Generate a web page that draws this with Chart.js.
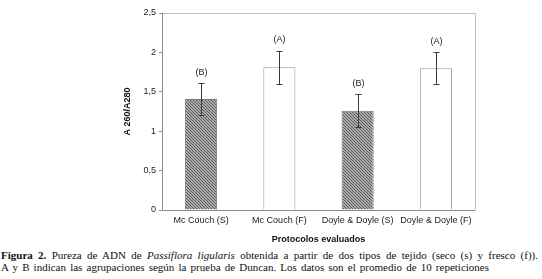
<!DOCTYPE html>
<html>
<head>
<meta charset="utf-8">
<script src="https://cdn.jsdelivr.net/npm/chart.js@4"></script>
<style>
  body { margin: 0; background: #fff; width: 542px; height: 279px; overflow: hidden; position: relative; }
  #wrap { position: absolute; left: 0; top: 0; width: 542px; height: 246px; }
  .cap { position: absolute; left: 1px; font-family: "Liberation Serif", "Times New Roman", serif; font-size: 11px; line-height: 12px; color: #111; }
  #cap1 { top: 249px; width: 537px; text-align: justify; text-align-last: justify; }
  #cap2 { top: 261px; white-space: nowrap; word-spacing: 1.4px; }
</style>
</head>
<body>
<div id="wrap"><canvas id="chart"></canvas></div>
<div class="cap" id="cap1"><b>Figura 2.</b> Pureza de ADN de <i>Passiflora ligularis</i> obtenida a partir de dos tipos de tejido (seco (s) y fresco (f)).</div>
<div class="cap" id="cap2">A y B indican las agrupaciones según la prueba de Duncan. Los datos son el promedio de 10 repeticiones</div>
<script>
// Pureza de ADN (A260/A280) por protocolo
const protocolos = ['Mc Couch (S)', 'Mc Couch (F)', 'Doyle & Doyle (S)', 'Doyle & Doyle (F)'];
const pureza = [1.41, 1.81, 1.26, 1.80];
const errores = [0.2, 0.21, 0.21, 0.2];
const grupos = ['(B)', '(A)', '(B)', '(A)'];
const secos = [true, false, true, false];
const yTicks = [0, 0.5, 1, 1.5, 2, 2.5];

function hatch() {
    const c = document.createElement('canvas');
    c.width = 3; c.height = 3;
    const g = c.getContext('2d');
    g.fillStyle = '#ababab';
    g.fillRect(0, 0, 3, 3);
    g.fillStyle = '#5a5a5a';
    for (let i = 0; i < 3; i++) {
        g.fillRect(i, i, 1, 1);
    }
    return g.createPattern(c, 'repeat');
}
const pat = hatch();

// caja del area de grafico + barras de error + letras de Duncan
const extras = {
    id: 'extras',
    afterDatasetsDraw(chart) {
        const ctx = chart.ctx;
        const a = chart.chartArea;
        const x = chart.scales.x, y = chart.scales.y;
        ctx.save();
        ctx.lineWidth = 1;
        ctx.strokeStyle = '#bdbdbd';
        ctx.beginPath();
        ctx.moveTo(a.left, a.top + 0.5);
        ctx.lineTo(a.right + 0.5, a.top + 0.5);
        ctx.lineTo(a.right + 0.5, a.bottom);
        ctx.stroke();
        ctx.strokeStyle = '#8c8c8c';
        ctx.beginPath();
        ctx.moveTo(a.left + 0.5, a.top);
        ctx.lineTo(a.left + 0.5, a.bottom + 0.5);
        ctx.lineTo(a.right + 0.5, a.bottom + 0.5);
        ctx.stroke();

        ctx.strokeStyle = '#3a3a3a';
        ctx.fillStyle = '#222';
        ctx.font = '9px "Liberation Sans", Arial, sans-serif';
        ctx.textAlign = 'center';
        ctx.textBaseline = 'middle';
        pureza.forEach((v, i) => {
            const px = Math.round(x.getPixelForValue(i)) + 0.5;
            const top = y.getPixelForValue(v + errores[i]);
            const bot = y.getPixelForValue(v - errores[i]);
            ctx.beginPath();
            ctx.moveTo(px, top); ctx.lineTo(px, bot);
            ctx.moveTo(px - 3, Math.round(top) + 0.5); ctx.lineTo(px + 3, Math.round(top) + 0.5);
            ctx.moveTo(px - 3, Math.round(bot) + 0.5); ctx.lineTo(px + 3, Math.round(bot) + 0.5);
            ctx.stroke();
            ctx.fillText(grupos[i], px, top - 11);
        });
        ctx.restore();
    }
};

new Chart(document.getElementById('chart'), {
    type: 'bar',
    data: {
        labels: protocolos,
        datasets: [{
            data: pureza,
            backgroundColor: secos.map(s => s ? pat : '#ffffff'),
            borderColor: secos.map(s => s ? '#777777' : '#9a9a9a'),
            borderWidth: 1,
            categoryPercentage: 0.82,
            barPercentage: 0.5
        }]
    },
    options: {
        responsive: true,
        maintainAspectRatio: false,
        animation: false,
        layout: { padding: { left: 118, right: 67, top: 13, bottom: 0 } },
        scales: {
            x: {
                grid: { display: false, drawTicks: false },
                border: { display: false },
                ticks: { color: '#222', font: { family: '"Liberation Sans", Arial, sans-serif', size: 9 }, padding: 5, maxRotation: 0 },
                title: { display: true, text: 'Protocolos evaluados', color: '#111', font: { family: '"Liberation Sans", Arial, sans-serif', size: 9, weight: 'bold' }, padding: { top: 5, bottom: 1 } },
                afterFit(s) { s.height = 36; }
            },
            y: {
                min: 0,
                max: 2.5,
                afterBuildTicks(s) { s.ticks = yTicks.map(v => ({ value: v })); },
                grid: { drawOnChartArea: false, drawTicks: true, tickLength: 3, color: '#8c8c8c' },
                border: { display: false },
                ticks: {
                    color: '#222',
                    padding: 3,
                    font: { family: '"Liberation Sans", Arial, sans-serif', size: 9 },
                    callback: v => String(v).replace('.', ',')
                },
                title: { display: true, text: 'A 260/A280', color: '#111', font: { family: '"Liberation Sans", Arial, sans-serif', size: 9, weight: 'bold' }, padding: { top: 4, bottom: 0 } },
                afterFit(s) { s.width = 44; }
            }
        },
        plugins: {
            legend: { display: false },
            tooltip: { enabled: false }
        }
    },
    plugins: [extras]
});
</script>
</body>
</html>
